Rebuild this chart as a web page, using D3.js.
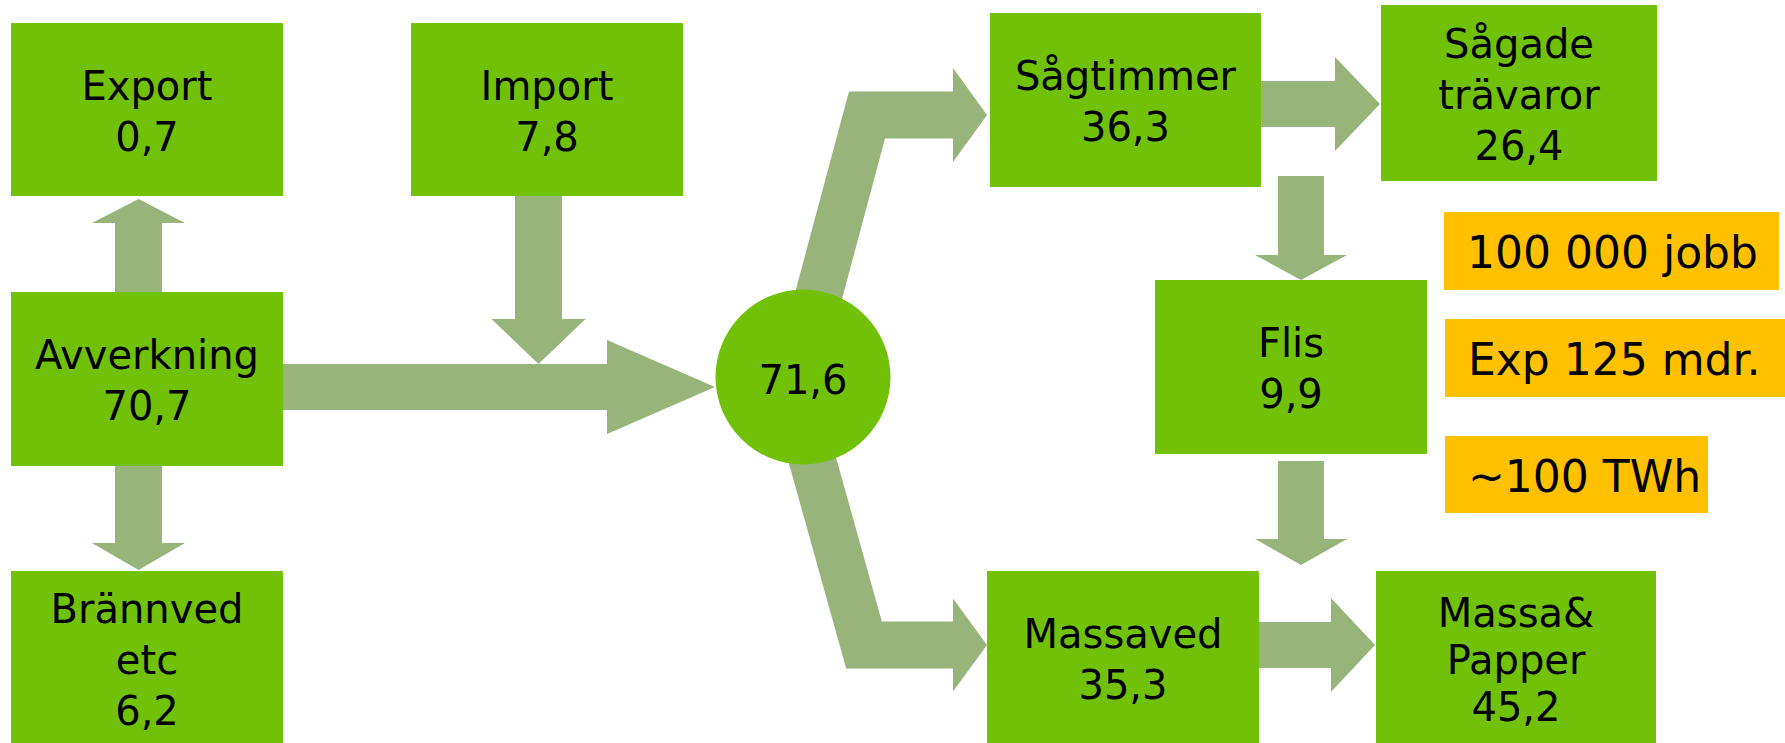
<!DOCTYPE html>
<html>
<head>
  <meta charset="UTF-8">
  <style>
    body { margin: 0; background: #fff; }
    svg { display: block; }
  </style>
</head>
<body>
  <svg></svg>
<script src="https://d3js.org/d3.v7.min.js"></script>
<script>

    let width = 1785;
    let height = 743;

    // volymer, miljoner m3
    let nodeIds = ["export", "import", "avverkning", "brannved", "sagtimmer", "sagade", "flis", "massaved", "massa"];
    let nodeLabels = [["Export"], ["Import"], ["Avverkning"], ["Brännved", "etc"], ["Sågtimmer"],
                      ["Sågade", "trävaror"], ["Flis"], ["Massaved"], ["Massa&", "Papper"]];
    let nodeValues = [0.7, 7.8, 70.7, 6.2, 36.3, 26.4, 9.9, 35.3, 45.2];
    let hubValue = 71.6;
    let notes = ["100 000 jobb", "Exp 125 mdr.", "~100 TWh"];

    // layout: x, y, w, h (+ line height)
    let boxPos = {
      export:     [11, 23, 272, 173, 51],
      import:     [411, 23, 272, 173, 51],
      avverkning: [11, 292, 272, 174, 51],
      brannved:   [11, 571, 272, 174, 51],
      sagtimmer:  [990, 13, 271, 174, 51],
      sagade:     [1381, 5, 276, 176, 51],
      flis:       [1155, 280, 272, 174, 51],
      massaved:   [987, 571, 272, 174, 51],
      massa:      [1376, 571, 280, 174, 47]
    };
    let notePos = [[1444, 212, 335, 78], [1445, 319, 345, 78], [1445, 436, 263, 77]];
    let hub = {cx: 803, cy: 377, r: 87.5};
    // straight arrows: x1, y1 -> tip x2, y2, shaft width, head width, head length
    let arrows = [
      [138.5, 292, 138.5, 199, 47, 93, 24],
      [138.5, 466, 138.5, 570, 47, 93, 27],
      [538.5, 196, 538.5, 364, 47, 94, 45],
      [283, 387, 715, 387, 46, 94, 108],
      [1261, 104, 1380, 104, 46, 94, 45],
      [1301, 176, 1301, 280, 46, 92, 25],
      [1301, 461, 1301, 565, 46, 92, 26],
      [1259, 645, 1375, 645, 46, 94, 44]
    ];
    let bent = [
      {pts: [[811, 324], [867, 115], [953, 115]], tip: 987, head: 94},
      {pts: [[804, 430], [864, 645], [953, 645]], tip: 987, head: 93}
    ];

    let boxColor = "#71c108";
    let arrowColor = "#97b47b";
    let noteColor = "#ffc000";

    let fmt = d3.formatLocale({decimal: ",", thousands: " ", grouping: [3], currency: ["", ""]}).format(".1f");

    let svg = d3.select("svg")
        .attr("width", width)
        .attr("height", height)
        .style("font-family", "'DejaVu Sans', sans-serif");

    function arrowPoints(a) {
      let [x1, y1, x2, y2, sw, hw, hl] = a;
      let len = Math.hypot(x2 - x1, y2 - y1);
      let ux = (x2 - x1) / len, uy = (y2 - y1) / len;
      let nx = -uy, ny = ux;
      let bx = x2 - ux * hl, by = y2 - uy * hl;
      return [
        [x1 + nx * sw / 2, y1 + ny * sw / 2],
        [bx + nx * sw / 2, by + ny * sw / 2],
        [bx + nx * hw / 2, by + ny * hw / 2],
        [x2, y2],
        [bx - nx * hw / 2, by - ny * hw / 2],
        [bx - nx * sw / 2, by - ny * sw / 2],
        [x1 - nx * sw / 2, y1 - ny * sw / 2]
      ];
    }

    let line = d3.line();

    // arrows
    svg.append("g")
      .selectAll("polygon")
      .data(arrows)
      .enter()
      .append("polygon")
        .attr("points", d => arrowPoints(d).join(" "))
        .attr("fill", arrowColor);

    let bg = svg.append("g").selectAll("g").data(bent).enter().append("g");
    bg.append("path")
      .attr("d", d => line(d.pts))
      .attr("fill", "none")
      .attr("stroke", arrowColor)
      .attr("stroke-width", 47)
      .attr("stroke-linejoin", "miter");
    bg.append("polygon")
      .attr("points", d => {
        let [bx, by] = d.pts[d.pts.length - 1];
        return [[bx, by - d.head / 2], [d.tip, by], [bx, by + d.head / 2]].join(" ");
      })
      .attr("fill", arrowColor);

    // boxes
    let nodes = nodeIds.map((id, i) => ({id: id, lines: nodeLabels[i], value: nodeValues[i], pos: boxPos[id]}));

    let node = svg.append("g")
      .selectAll("g")
      .data(nodes)
      .enter()
      .append("g");

    node.append("rect")
      .attr("x", d => d.pos[0])
      .attr("y", d => d.pos[1])
      .attr("width", d => d.pos[2])
      .attr("height", d => d.pos[3])
      .attr("fill", boxColor);

    node.each(function(d) {
      let rows = d.lines.concat([fmt(d.value)]);
      let cx = d.pos[0] + d.pos[2] / 2;
      let cy = d.pos[1] + d.pos[3] / 2;
      let lh = d.pos[4];
      d3.select(this).selectAll("text")
        .data(rows)
        .enter()
        .append("text")
          .attr("x", cx)
          .attr("y", (r, i) => cy + 15.5 + (i - (rows.length - 1) / 2) * lh)
          .attr("text-anchor", "middle")
          .attr("font-size", 40)
          .attr("fill", "#000")
          .text(r => r);
    });

    // hub
    svg.append("circle")
      .attr("cx", hub.cx)
      .attr("cy", hub.cy)
      .attr("r", hub.r)
      .attr("fill", boxColor);
    svg.append("text")
      .attr("x", hub.cx)
      .attr("y", hub.cy + 17)
      .attr("text-anchor", "middle")
      .attr("font-size", 40)
      .text(fmt(hubValue));

    // notes
    let note = svg.append("g")
      .selectAll("g")
      .data(notes)
      .enter()
      .append("g");
    note.append("rect")
      .attr("x", (d, i) => notePos[i][0])
      .attr("y", (d, i) => notePos[i][1])
      .attr("width", (d, i) => notePos[i][2])
      .attr("height", (d, i) => notePos[i][3])
      .attr("fill", noteColor);
    note.append("text")
      .attr("x", (d, i) => notePos[i][0] + 23)
      .attr("y", (d, i) => notePos[i][1] + notePos[i][3] / 2 + 17)
      .attr("font-size", 44)
      .attr("fill", "#000")
      .text(d => d);

</script>
</body>
</html>
